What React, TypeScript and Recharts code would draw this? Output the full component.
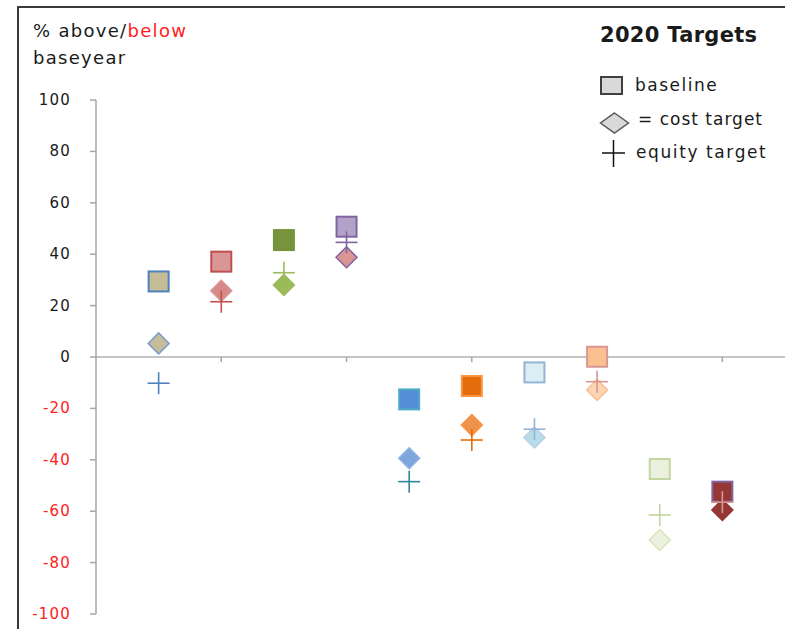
import React from 'react';
import { ScatterChart, Scatter, XAxis, YAxis, ReferenceLine } from 'recharts';

// category positions (x) and values (% above/below base year)
const categories = [1, 2, 3, 4, 5, 6, 7, 8, 9, 10];
const baseline = [29.4, 37.1, 45.5, 50.7, -16.5, -11.3, -6, 0.1, -43.6, -52.4];
const costTarget = [5.3, 25.8, 28, 38.8, -39.4, -26.5, -31.3, -12.8, -71.2, -59.5];
const equityTarget = [-10.2, 21.5, 32.8, 44.6, -48.5, -32.3, -28.1, -9.6, -61.5, -56.5];
const yTicks = [100, 80, 60, 40, 20, 0, -20, -40, -60, -80, -100];
const xTicks = [2, 4, 6, 8, 10];

// colours per category
const baseFill = ['#C4BD97', '#D99694', '#77933C', '#B3A2C7', '#558ED5', '#E46C0A', '#DBEEF4', '#FAC090', '#EBF1DE', '#953735'];
const baseStroke = ['#4F81BD', '#C0504D', '#77933C', '#8064A2', '#4BACC6', '#F79646', '#95B3D7', '#D99694', '#C3D69B', '#8064A2'];
const costFill = ['#C4BD97', '#D58A88', '#9BBB59', '#D99694', '#7FA6DC', '#F0934A', '#B7DEE8', '#FCD5B5', '#EBF1DE', '#953735'];
const costStroke = ['#7F9FC8', '#D99694', '#9BBB59', '#8064A2', '#8EB4E3', '#F79646', '#B9CDE5', '#FAC090', '#D7E4BD', '#953735'];
const equityColor = ['#4F81BD', '#C0504D', '#9BBB59', '#8064A2', '#31859C', '#E46C0A', '#95B3D7', '#D99694', '#C3D69B', '#D99694'];

const toData = (vals: number[]) => categories.map((c, i) => ({ x: c, y: vals[i], i }));
const baseData = toData(baseline);
const costData = toData(costTarget);
const equityData = toData(equityTarget);

const FONT = '"DejaVu Sans", "Noto Sans", sans-serif';

const SquareShape = (props: any) => {
  const { cx, cy, payload } = props;
  const i = payload.i;
  return <rect x={cx - 10} y={cy - 10} width={20} height={20} fill={baseFill[i]} stroke={baseStroke[i]} strokeWidth={2} />;
};

const DiamondShape = (props: any) => {
  const { cx, cy, payload } = props;
  const i = payload.i;
  const r = 10.5;
  return (
    <polygon
      points={`${cx},${cy - r} ${cx + r},${cy} ${cx},${cy + r} ${cx - r},${cy}`}
      fill={costFill[i]}
      stroke={costStroke[i]}
      strokeWidth={1.5}
    />
  );
};

const PlusShape = (props: any) => {
  const { cx, cy, payload } = props;
  const i = payload.i;
  const r = 11;
  return (
    <g stroke={equityColor[i]} strokeWidth={1.6}>
      <line x1={cx - r} y1={cy} x2={cx + r} y2={cy} />
      <line x1={cx} y1={cy - r} x2={cx} y2={cy + r} />
    </g>
  );
};

const YTick = (props: any) => {
  const { x, y, payload } = props;
  const v = payload.value;
  return (
    <text x={x} y={y} dy={5} textAnchor="end" fontSize={15} fontFamily={FONT} letterSpacing={1.2} fill={v < 0 ? '#FF2020' : '#1A1A1A'}>
      {v}
    </text>
  );
};

export default function App() {
  return (
    <div style={{ position: 'absolute', left: 0, top: 0, width: 785, height: 629, background: '#fff', overflow: 'hidden' }}>
      <div style={{ position: 'absolute', left: 17, top: 6, width: 800, height: 700, borderLeft: '2px solid #3A3A3A', borderTop: '2px solid #3A3A3A' }} />
      <ScatterChart width={785} height={629} margin={{ top: 100, right: 0, bottom: 15, left: 0 }}>
        <XAxis type="number" dataKey="x" domain={[0, 11]} hide />
        <YAxis
          type="number"
          dataKey="y"
          domain={[-100, 100]}
          ticks={yTicks}
          interval={0}
          width={96}
          tickSize={6}
          tickMargin={19}
          axisLine={{ stroke: '#A6A6A6', strokeWidth: 1.5 }}
          tickLine={{ stroke: '#A6A6A6', strokeWidth: 1.5 }}
          tick={<YTick />}
        />
        <ReferenceLine y={0} stroke="#B0B0B0" strokeWidth={1.5} />
        {xTicks.map((t) => (
          <ReferenceLine key={t} segment={[{ x: t, y: 0 }, { x: t, y: -2 }]} stroke="#A6A6A6" strokeWidth={1.5} />
        ))}
        <Scatter name="baseline" data={baseData} shape={SquareShape} isAnimationActive={false} />
        <Scatter name="= cost target" data={costData} shape={DiamondShape} isAnimationActive={false} />
        <Scatter name="equity target" data={equityData} shape={PlusShape} isAnimationActive={false} />
      </ScatterChart>
      <div style={{ position: 'absolute', left: 33, top: 17, fontFamily: FONT, fontSize: 18, letterSpacing: 1.3, color: '#1A1A1A', lineHeight: '27px', whiteSpace: 'nowrap' }}>
        <div>% above/<span style={{ color: '#FF2020' }}>below</span></div>
        <div>baseyear</div>
      </div>
      <div style={{ position: 'absolute', left: 600, top: 20, fontFamily: FONT, color: '#1A1A1A' }}>
        <div style={{ fontSize: 21, fontWeight: 'bold', lineHeight: '30px', letterSpacing: 0.3, whiteSpace: 'nowrap' }}>2020 Targets</div>
        <svg width={40} height={110} style={{ position: 'absolute', left: -6, top: 43 }}>
          <rect x={7} y={14} width={21} height={17} fill="#D9D9D9" stroke="#404040" strokeWidth={2} />
          <polygon points="20.5,50 34.5,60 20.5,70 6.5,60" fill="#D9D9D9" stroke="#595959" strokeWidth={1.5} />
          <line x1={8} y1={90} x2={31} y2={90} stroke="#111" strokeWidth={1.5} />
          <line x1={19.5} y1={77} x2={19.5} y2={104} stroke="#111" strokeWidth={1.5} />
        </svg>
        <div style={{ position: 'absolute', left: 35, top: 55, fontSize: 17, lineHeight: '20px', letterSpacing: 1.5, whiteSpace: 'nowrap' }}>baseline</div>
        <div style={{ position: 'absolute', left: 38, top: 89, fontSize: 17, lineHeight: '20px', letterSpacing: 1.0, whiteSpace: 'nowrap' }}>= cost target</div>
        <div style={{ position: 'absolute', left: 36, top: 122, fontSize: 17, lineHeight: '20px', letterSpacing: 1.6, whiteSpace: 'nowrap' }}>equity target</div>
      </div>
    </div>
  );
}
